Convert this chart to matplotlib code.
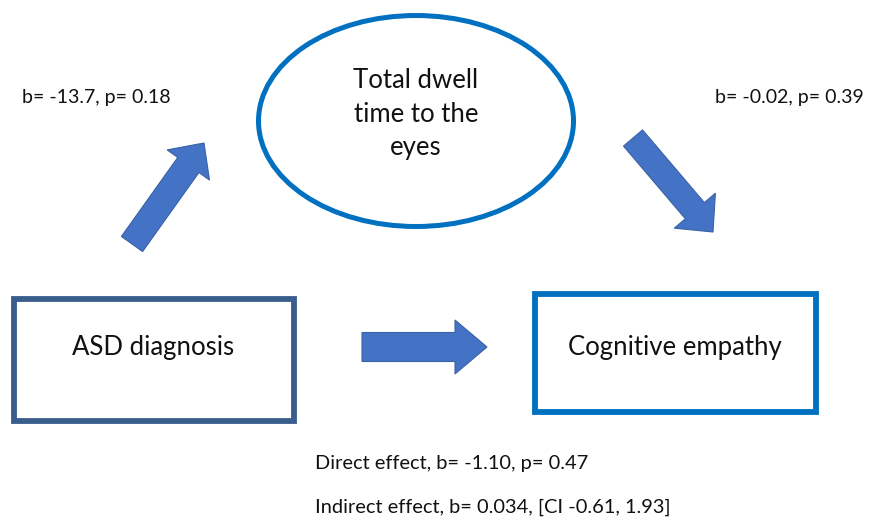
import matplotlib.pyplot as plt
from matplotlib.patches import Ellipse, Rectangle, FancyArrow

# node labels
mediator = "Total dwell\ntime to the\neyes"
predictor = "ASD diagnosis"
outcome = "Cognitive empathy"

# path statistics
path_a = "b= -13.7, p= 0.18"
path_b = "b= -0.02, p= 0.39"
effects = ["Direct effect, b= -1.10, p= 0.47",
           "Indirect effect, b= 0.034, [CI -0.61, 1.93]"]

plt.rcParams['font.family'] = ['Lato', 'DejaVu Sans']

fig = plt.figure(figsize=(8.7, 5.19), dpi=100)
ax = fig.add_axes([0, 0, 1, 1])
ax.set_xlim(0, 870)
ax.set_ylim(519, 0)
ax.axis('off')

blue = '#0070C0'
navy = '#3A5E8C'
arrow_c = '#4472C4'

# mediator ellipse
ax.add_patch(Ellipse((416, 121), 315, 211, fill=False, ec=blue, lw=3.6))
ax.text(416, 114, mediator, ha='center', va='center', fontsize=18.5,
        linespacing=1.45, color='#111111')

# boxes
ax.add_patch(Rectangle((14, 299), 280, 122, fill=False, ec=navy, lw=4.2))
ax.text(153, 347, predictor, ha='center', va='center', fontsize=18.5, color='#111111')
ax.add_patch(Rectangle((535, 294), 281, 118, fill=False, ec=blue, lw=4.2))
ax.text(675, 347, outcome, ha='center', va='center', fontsize=18.5, color='#111111')

# arrows
def arrow(x0, y0, x1, y1, w, hw, hl):
    ax.add_patch(FancyArrow(x0, y0, x1 - x0, y1 - y0, width=w, head_width=hw,
                            head_length=hl, length_includes_head=True,
                            fc=arrow_c, ec='#3A62A8', lw=0.8))

arrow(132, 244, 204, 143, 26, 52, 27)
arrow(633, 138, 713, 232, 25, 54, 28)
arrow(362, 347, 487, 347, 29, 54, 32)

# stats
ax.text(22, 97, path_a, ha='left', va='center', fontsize=14, color='#111111')
ax.text(715, 97, path_b, ha='left', va='center', fontsize=14, color='#111111')
ax.text(315, 463, effects[0], ha='left', va='center', fontsize=14.4, color='#111111')
ax.text(315, 507, effects[1], ha='left', va='center', fontsize=14.4, color='#111111')

fig.savefig('out.png', dpi=100)
